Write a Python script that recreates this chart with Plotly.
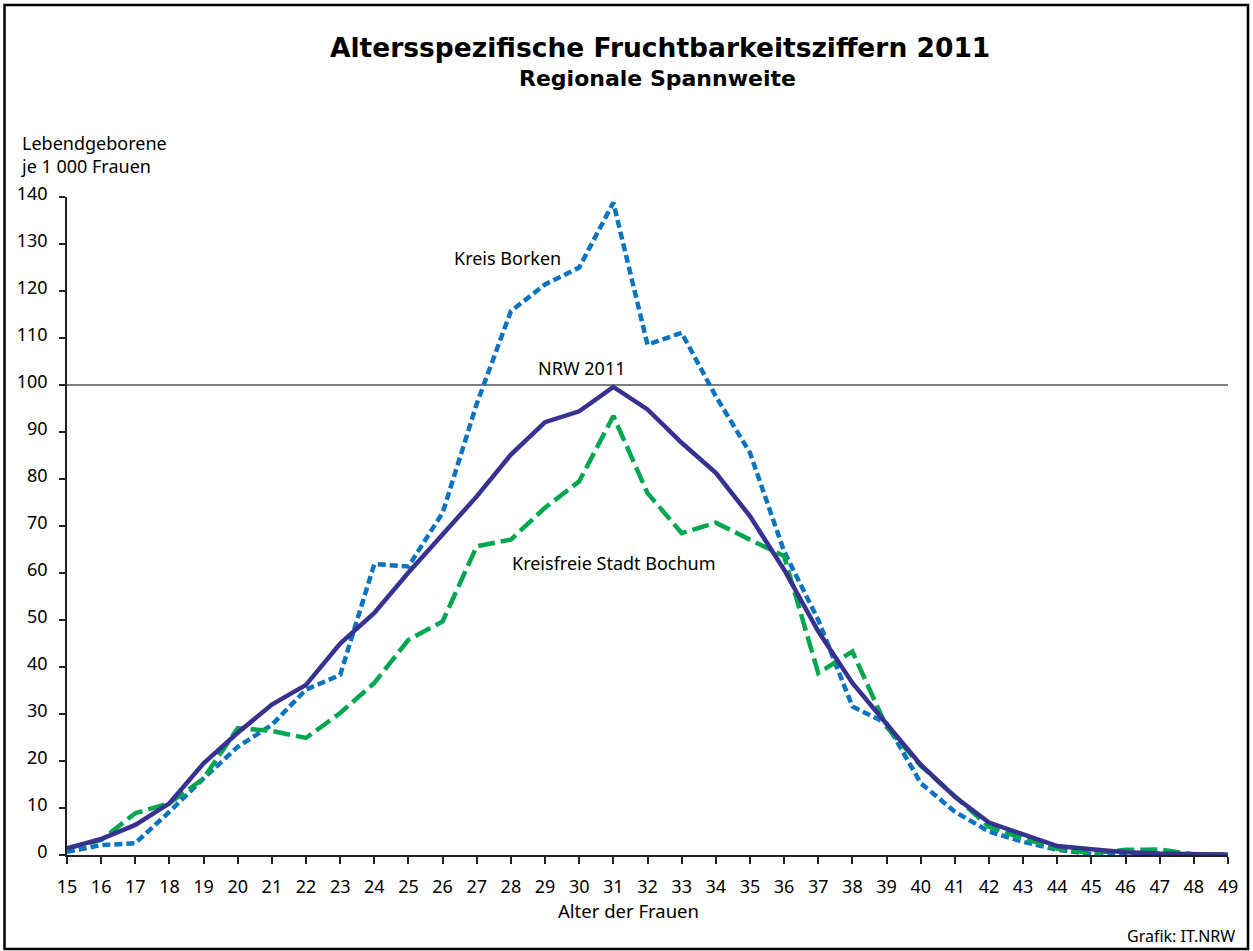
import plotly.graph_objects as go

ages = list(range(15, 50))

nrw = [1.4, 3.4, 6.4, 11.0, 19.5, 26.0, 32.0, 36.2, 45.0, 51.5,
       60.1, 68.2, 76.3, 85.2, 92.1, 94.4, 99.6, 94.8, 87.7, 81.3,
       72.1, 60.7, 47.6, 36.6, 28.0, 19.2, 12.4, 6.9, 4.4, 1.9,
       1.2, 0.6, 0.3, 0.1, 0.05]

borken = [0.7, 2.1, 2.5, 9.2, 16.3, 23.0, 27.7, 35.2, 38.3, 61.9,
          61.4, 72.8, 96.0, 115.7, 121.4, 125.0, 138.8, 108.6, 111.1, 97.6,
          85.6, 64.6, 50.0, 31.6, 28.0, 15.3, 9.2, 5.0, 2.8, 1.1,
          0.2, 0.2, 0.2, 0.1, 0.1]

bochum = [1.4, 3.2, 8.9, 11.0, 16.3, 27.0, 26.4, 24.9, 30.2, 36.6,
          45.8, 49.7, 65.7, 67.1, 73.9, 79.5, 93.4, 77.0, 68.5, 70.7,
          67.1, 63.6, 38.7, 43.3, 27.3, 19.0, 12.5, 6.0, 3.5, 1.4,
          0.4, 1.1, 1.2, 0.1, 0.1]

y_ticks = list(range(0, 141, 10))
reference_level = 100

FONT = "Noto Sans"
TITLE_FONT = "DejaVu Sans"

# plot-area geometry (pixels) used to place paper-referenced texts
L, R, T, B = 67, 1228, 197, 855
W, H = R - L, B - T


def px(x):
    return (x - L) / W


def py(y):
    return (B - y) / H


fig = go.Figure()
fig.add_trace(go.Scatter(x=ages, y=borken, mode="lines", name="Kreis Borken",
                         line=dict(color="#0a74c0", width=4.5, dash="8px,4px")))
fig.add_trace(go.Scatter(x=ages, y=bochum, mode="lines", name="Kreisfreie Stadt Bochum",
                         line=dict(color="#00a650", width=4.5, dash="17px,6px")))
fig.add_trace(go.Scatter(x=ages, y=nrw, mode="lines", name="NRW 2011",
                         line=dict(color="#37318f", width=4.5)))

fig.add_shape(type="line", xref="x", yref="y", x0=ages[0], x1=ages[-1],
              y0=reference_level, y1=reference_level,
              line=dict(color="black", width=1), layer="below")

# outer frame
fig.add_shape(type="rect", xref="paper", yref="paper",
              x0=px(4.5), x1=px(1248), y0=py(949), y1=py(5),
              line=dict(color="black", width=2.5), fillcolor="rgba(0,0,0,0)", layer="below")

fig.update_layout(
    width=1253, height=951,
    margin=dict(l=L, r=1253 - R, t=T, b=951 - B),
    paper_bgcolor="white", plot_bgcolor="white",
    showlegend=False,
    font=dict(family=FONT, size=18, color="black"),
    xaxis=dict(range=[15, 49], tickmode="array", tickvals=ages,
               ticktext=[str(a) for a in ages],
               showgrid=False, zeroline=False, showline=True,
               linecolor="#222", linewidth=1.5, ticks="outside", ticklen=7,
               tickcolor="#222", tickwidth=1.5,
               tickfont=dict(size=18), ticklabelstandoff=8),
    yaxis=dict(range=[0, 140], tickmode="array", tickvals=y_ticks,
               showgrid=False, zeroline=False, showline=True,
               linecolor="#222", linewidth=1.5, ticks="outside", ticklen=6,
               tickcolor="#222", tickwidth=1.5,
               tickfont=dict(size=18), ticklabelstandoff=8, ticklabelshift=-3),
)

ann = []
ann.append(dict(text="<b>Altersspezifische Fruchtbarkeitsziffern 2011</b>",
                xref="paper", yref="paper", x=px(660), y=py(47.5),
                showarrow=False, font=dict(size=26.5, family=TITLE_FONT),
                xanchor="center", yanchor="middle"))
ann.append(dict(text="<b>Regionale Spannweite</b>",
                xref="paper", yref="paper", x=px(657), y=py(78.5),
                showarrow=False, font=dict(size=22, family=TITLE_FONT),
                xanchor="center", yanchor="middle"))
ann.append(dict(text="Lebendgeborene<br>je 1 000 Frauen",
                xref="paper", yref="paper", x=px(19), y=py(129),
                showarrow=False, font=dict(size=18), xanchor="left", yanchor="top", align="left"))
ann.append(dict(text="Alter der Frauen",
                xref="paper", yref="paper", x=px(628), y=py(911),
                showarrow=False, font=dict(size=18.5), xanchor="center", yanchor="middle"))
ann.append(dict(text="Grafik: IT.NRW",
                xref="paper", yref="paper", x=px(1237), y=py(936),
                showarrow=False, font=dict(size=16), xanchor="right", yanchor="middle"))
ann.append(dict(text="Kreis Borken", xref="paper", yref="paper",
                x=px(507), y=py(258),
                showarrow=False, font=dict(size=18), xanchor="center", yanchor="middle"))
ann.append(dict(text="NRW 2011", xref="paper", yref="paper",
                x=px(581.5), y=py(368),
                showarrow=False, font=dict(size=18), xanchor="center", yanchor="middle"))
ann.append(dict(text="Kreisfreie Stadt Bochum", xref="paper", yref="paper",
                x=px(614), y=py(563),
                showarrow=False, font=dict(size=18), xanchor="center", yanchor="middle"))
fig.update_layout(annotations=ann)

fig.write_html("out.html", config={"displayModeBar": False},
               post_script="document.body.style.margin='0';")
